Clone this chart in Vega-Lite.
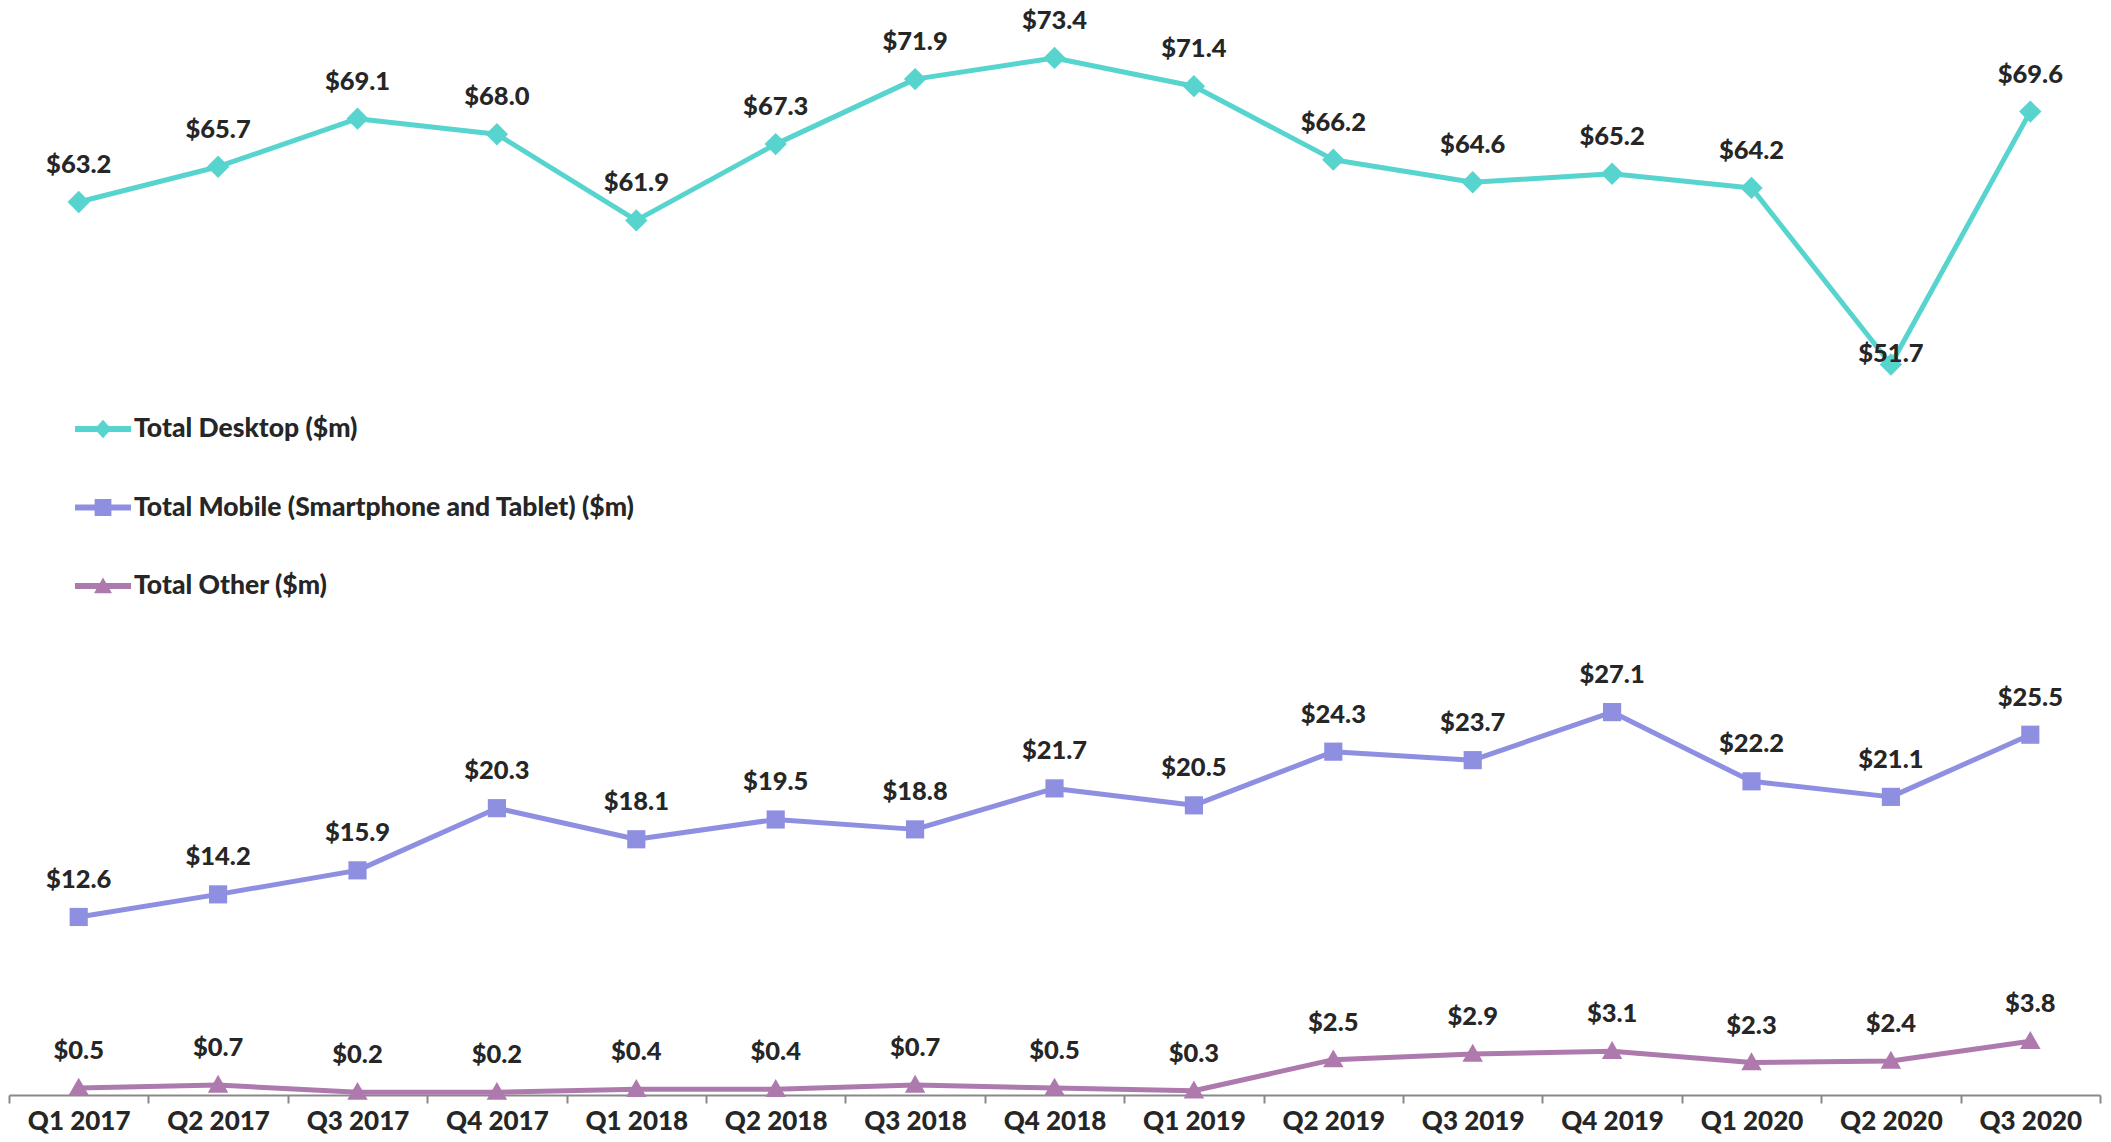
{
  "$schema": "https://vega.github.io/schema/vega-lite/v6.json",
  "width": 2091,
  "height": 1095,
  "autosize": {"type": "none"},
  "padding": {"left": 9, "top": 0, "right": 11, "bottom": 47},
  "background": "white",
  "config": {
    "view": {"stroke": null},
    "font": "Lato",
    "axis": {
      "domainColor": "#898989", "domainWidth": 2,
      "tickColor": "#898989", "tickWidth": 2, "tickSize": 8,
      "labelFont": "Lato", "labelFontSize": 26, "labelFontWeight": 900,
      "labelColor": "#262626", "labelPadding": 26, "labelBaseline": "alphabetic",
      "grid": false, "title": null, "labelAngle": 0
    },
    "legend": {
      "labelFont": "Lato", "labelFontSize": 26.5, "labelFontWeight": 900,
      "labelColor": "#262626", "labelLimit": 0, "title": null
    }
  },
  "data": {
    "values": [
      {"quarter": "Q1 2017", "series": "Total Desktop ($m)", "value": 63.2},
      {"quarter": "Q2 2017", "series": "Total Desktop ($m)", "value": 65.7},
      {"quarter": "Q3 2017", "series": "Total Desktop ($m)", "value": 69.1},
      {"quarter": "Q4 2017", "series": "Total Desktop ($m)", "value": 68.0},
      {"quarter": "Q1 2018", "series": "Total Desktop ($m)", "value": 61.9},
      {"quarter": "Q2 2018", "series": "Total Desktop ($m)", "value": 67.3},
      {"quarter": "Q3 2018", "series": "Total Desktop ($m)", "value": 71.9},
      {"quarter": "Q4 2018", "series": "Total Desktop ($m)", "value": 73.4},
      {"quarter": "Q1 2019", "series": "Total Desktop ($m)", "value": 71.4},
      {"quarter": "Q2 2019", "series": "Total Desktop ($m)", "value": 66.2},
      {"quarter": "Q3 2019", "series": "Total Desktop ($m)", "value": 64.6},
      {"quarter": "Q4 2019", "series": "Total Desktop ($m)", "value": 65.2},
      {"quarter": "Q1 2020", "series": "Total Desktop ($m)", "value": 64.2},
      {"quarter": "Q2 2020", "series": "Total Desktop ($m)", "value": 51.7},
      {"quarter": "Q3 2020", "series": "Total Desktop ($m)", "value": 69.6},
      {"quarter": "Q1 2017", "series": "Total Mobile (Smartphone and Tablet) ($m)", "value": 12.6},
      {"quarter": "Q2 2017", "series": "Total Mobile (Smartphone and Tablet) ($m)", "value": 14.2},
      {"quarter": "Q3 2017", "series": "Total Mobile (Smartphone and Tablet) ($m)", "value": 15.9},
      {"quarter": "Q4 2017", "series": "Total Mobile (Smartphone and Tablet) ($m)", "value": 20.3},
      {"quarter": "Q1 2018", "series": "Total Mobile (Smartphone and Tablet) ($m)", "value": 18.1},
      {"quarter": "Q2 2018", "series": "Total Mobile (Smartphone and Tablet) ($m)", "value": 19.5},
      {"quarter": "Q3 2018", "series": "Total Mobile (Smartphone and Tablet) ($m)", "value": 18.8},
      {"quarter": "Q4 2018", "series": "Total Mobile (Smartphone and Tablet) ($m)", "value": 21.7},
      {"quarter": "Q1 2019", "series": "Total Mobile (Smartphone and Tablet) ($m)", "value": 20.5},
      {"quarter": "Q2 2019", "series": "Total Mobile (Smartphone and Tablet) ($m)", "value": 24.3},
      {"quarter": "Q3 2019", "series": "Total Mobile (Smartphone and Tablet) ($m)", "value": 23.7},
      {"quarter": "Q4 2019", "series": "Total Mobile (Smartphone and Tablet) ($m)", "value": 27.1},
      {"quarter": "Q1 2020", "series": "Total Mobile (Smartphone and Tablet) ($m)", "value": 22.2},
      {"quarter": "Q2 2020", "series": "Total Mobile (Smartphone and Tablet) ($m)", "value": 21.1},
      {"quarter": "Q3 2020", "series": "Total Mobile (Smartphone and Tablet) ($m)", "value": 25.5},
      {"quarter": "Q1 2017", "series": "Total Other ($m)", "value": 0.5},
      {"quarter": "Q2 2017", "series": "Total Other ($m)", "value": 0.7},
      {"quarter": "Q3 2017", "series": "Total Other ($m)", "value": 0.2},
      {"quarter": "Q4 2017", "series": "Total Other ($m)", "value": 0.2},
      {"quarter": "Q1 2018", "series": "Total Other ($m)", "value": 0.4},
      {"quarter": "Q2 2018", "series": "Total Other ($m)", "value": 0.4},
      {"quarter": "Q3 2018", "series": "Total Other ($m)", "value": 0.7},
      {"quarter": "Q4 2018", "series": "Total Other ($m)", "value": 0.5},
      {"quarter": "Q1 2019", "series": "Total Other ($m)", "value": 0.3},
      {"quarter": "Q2 2019", "series": "Total Other ($m)", "value": 2.5},
      {"quarter": "Q3 2019", "series": "Total Other ($m)", "value": 2.9},
      {"quarter": "Q4 2019", "series": "Total Other ($m)", "value": 3.1},
      {"quarter": "Q1 2020", "series": "Total Other ($m)", "value": 2.3},
      {"quarter": "Q2 2020", "series": "Total Other ($m)", "value": 2.4},
      {"quarter": "Q3 2020", "series": "Total Other ($m)", "value": 3.8}
    ]
  },
  "encoding": {
    "x": {
      "field": "quarter", "type": "ordinal", "sort": null,
      "scale": {"type": "band", "paddingInner": 0, "paddingOuter": 0},
      "axis": {"tickBand": "extent"}
    },
    "y": {
      "field": "value", "type": "quantitative",
      "scale": {"domain": [0, 77.5], "nice": false, "zero": true},
      "axis": null
    }
  },
  "layer": [
    {
      "mark": {"type": "line", "strokeWidth": 5, "strokeJoin": "round", "strokeCap": "round"},
      "encoding": {
        "color": {
          "field": "series", "type": "nominal", "sort": null,
          "scale": {
            "domain": ["Total Desktop ($m)", "Total Mobile (Smartphone and Tablet) ($m)", "Total Other ($m)"],
            "range": ["#58D4CF", "#8F8FE2", "#AE7AAE"]
          },
          "legend": {
            "orient": "none", "legendX": 66, "legendY": 401, "direction": "vertical",
            "padding": 0, "symbolSize": 3136, "rowPadding": 36.5, "labelOffset": 3,
            "encode": {
              "symbols": {
                "update": {
                  "shape": {"signal": "datum.value === 'Total Desktop ($m)' ? 'M-1,-0.107L1,-0.107L1,0.107L-1,0.107Z M0,-0.33L0.3,0L0,0.33L-0.3,0Z' : datum.value === 'Total Other ($m)' ? 'M-1,-0.107L1,-0.107L1,0.107L-1,0.107Z M0,-0.3L0.32,0.26L-0.32,0.26Z' : 'M-1,-0.107L1,-0.107L1,0.107L-1,0.107Z M-0.3,-0.3L0.3,-0.3L0.3,0.3L-0.3,0.3Z'"},
                  "fill": {"scale": "color", "field": "value"},
                  "strokeWidth": {"value": 0},
                  "opacity": {"value": 1}
                }
              }
            }
          }
        }
      }
    },
    {
      "transform": [{"filter": "datum.series === 'Total Desktop ($m)'"}],
      "mark": {"type": "point", "filled": true, "opacity": 1, "shape": "M0,-1L1,0L0,1L-1,0Z", "size": 500},
      "encoding": {"color": {"field": "series", "type": "nominal", "sort": null, "legend": null}}
    },
    {
      "transform": [{"filter": "datum.series === 'Total Mobile (Smartphone and Tablet) ($m)'"}],
      "mark": {"type": "point", "filled": true, "opacity": 1, "shape": "square", "size": 330},
      "encoding": {"color": {"field": "series", "type": "nominal", "sort": null, "legend": null}}
    },
    {
      "transform": [{"filter": "datum.series === 'Total Other ($m)'"}],
      "mark": {"type": "point", "filled": true, "opacity": 1, "shape": "M0,-1L1,0.75L-1,0.75Z", "size": 420},
      "encoding": {"color": {"field": "series", "type": "nominal", "sort": null, "legend": null}}
    },
    {
      "transform": [{"filter": "!(datum.quarter === 'Q2 2020' && datum.series === 'Total Desktop ($m)')"}],
      "mark": {"type": "text", "dy": -37, "baseline": "middle", "font": "Lato", "fontSize": 25.5, "fontWeight": 900, "color": "#262626"},
      "encoding": {"text": {"field": "value", "type": "quantitative", "format": "$.1f"}}
    },
    {
      "transform": [{"filter": "datum.quarter === 'Q2 2020' && datum.series === 'Total Desktop ($m)'"}],
      "mark": {"type": "text", "dy": -11, "baseline": "middle", "font": "Lato", "fontSize": 25.5, "fontWeight": 900, "color": "#262626"},
      "encoding": {"text": {"field": "value", "type": "quantitative", "format": "$.1f"}}
    }
  ]
}
